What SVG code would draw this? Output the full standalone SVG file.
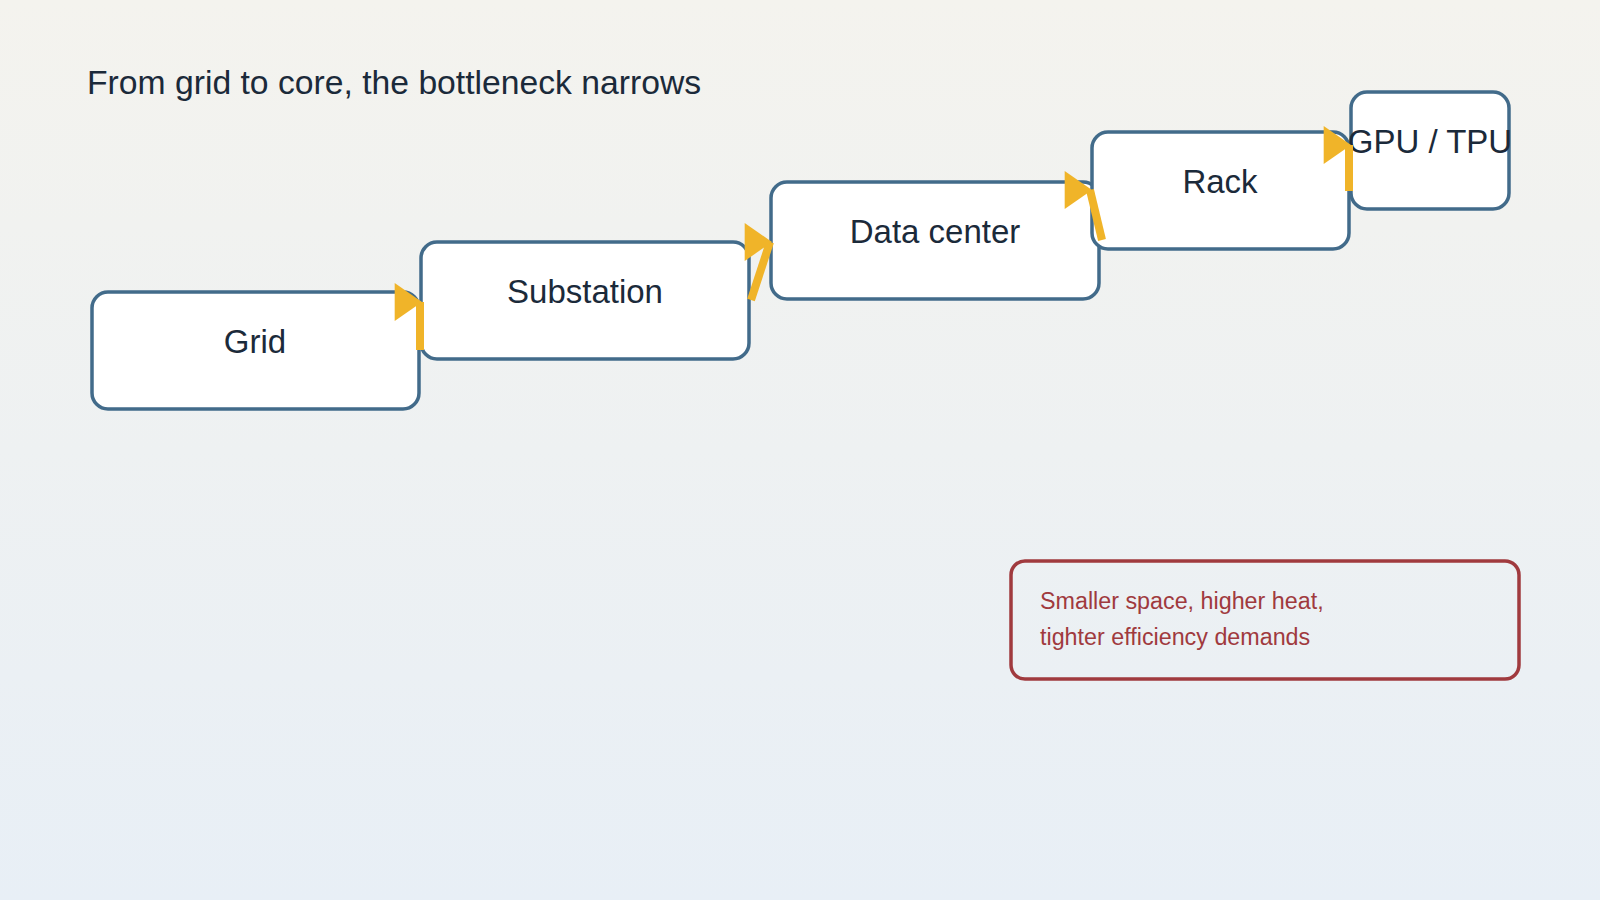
<svg xmlns="http://www.w3.org/2000/svg" width="1600" height="900" viewBox="0 0 1600 900">
<defs>
<linearGradient id="bg" x1="0" y1="0" x2="0" y2="1"><stop offset="0" stop-color="#f4f3ee"/><stop offset="1" stop-color="#e8eff6"/></linearGradient>
<marker id="ah" markerUnits="userSpaceOnUse" markerWidth="28" markerHeight="38" viewBox="0 0 26 36" refX="24" refY="18" orient="0"><path d="M0,0 L26,18 L0,36 Z" fill="#f0b429"/></marker>
<style>
.box{fill:#fff;stroke:#426b8a;stroke-width:3.5}
.lbl{font-family:"Liberation Sans",Arial,sans-serif;font-size:33px;fill:#1b2a3a;text-anchor:middle}
.c{stroke:#f0b429;stroke-width:8;fill:none;marker-end:url(#ah)}
</style>
</defs>
<rect width="1600" height="900" fill="url(#bg)"/>
<text x="87" y="94" font-family="Liberation Sans,Arial,sans-serif" font-size="33.7" fill="#1b2a3a">From grid to core, the bottleneck narrows</text>
<g id="grid"><rect class="box" x="92" y="292" width="327" height="117" rx="16"/><text class="lbl" x="255" y="353">Grid</text></g>
<g id="substation"><rect class="box" x="421" y="242" width="328" height="117" rx="16"/><text class="lbl" x="585" y="303">Substation</text></g>
<g id="datacenter"><rect class="box" x="771" y="182" width="328" height="117" rx="16"/><text class="lbl" x="935" y="243">Data center</text></g>
<g id="rack"><rect class="box" x="1092" y="132" width="257" height="117" rx="16"/><text class="lbl" x="1220" y="193">Rack</text></g>
<g id="gpu"><rect class="box" x="1351" y="92" width="158" height="117" rx="16"/><text class="lbl" x="1430" y="153">GPU / TPU</text></g>
<g id="note"><rect x="1011" y="561" width="508" height="118" rx="14" fill="none" stroke="#a03a3e" stroke-width="3.5"/>
<text font-family="Liberation Sans,Arial,sans-serif" font-size="23.3" fill="#a03a3e"><tspan x="1040" y="609">Smaller space, higher heat,</tspan><tspan x="1040" y="645">tighter efficiency demands</tspan></text></g>
<g id="connectors">
<line class="c" x1="420" y1="350" x2="420" y2="302"/>
<line class="c" x1="751" y1="300" x2="770" y2="242"/>
<line class="c" x1="1102" y1="240" x2="1090" y2="190"/>
<line class="c" x1="1349" y1="191" x2="1349" y2="145"/>
</g>
</svg>
